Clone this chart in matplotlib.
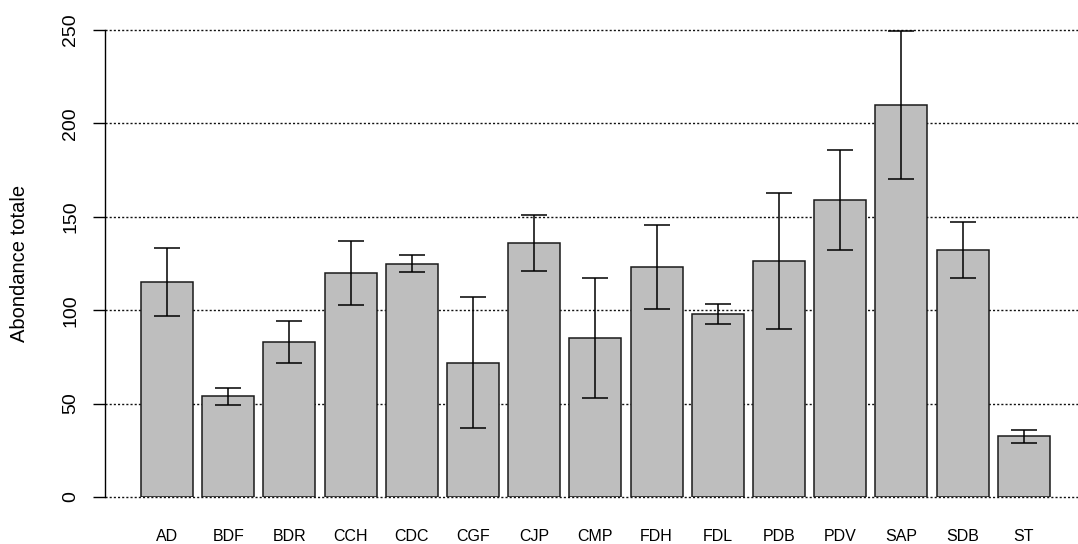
import matplotlib
matplotlib.use("Agg")
import matplotlib.pyplot as plt
import numpy as np

plt.rcParams['font.family'] = ['Liberation Sans', 'DejaVu Sans']

# abondance moyenne par site et erreur associee
sites = ['AD', 'BDF', 'BDR', 'CCH', 'CDC', 'CGF', 'CJP', 'CMP',
         'FDH', 'FDL', 'PDB', 'PDV', 'SAP', 'SDB', 'ST']
abondance = [115, 54, 83, 120, 125, 72, 136, 85, 123, 98, 126.5, 159, 210, 132, 32.5]
erreur = [18.3, 4.5, 11, 17.3, 4.8, 35, 15, 32, 22.5, 5.5, 36.3, 26.6, 39.5, 15, 3.6]
graduations = [0, 50, 100, 150, 200, 250]

W, H = 1078, 544
fig = plt.figure(figsize=(W / 100, H / 100), dpi=100)
ax = fig.add_axes([105 / W, 47 / H, 973 / W, 467 / H])

x = np.arange(len(sites))
step = 61.2  # pixels entre deux barres
x0 = -62 / step
ax.set_xlim(x0, x0 + 973 / step)
ax.set_ylim(0, 250)

# lignes horizontales en pointille
for g in graduations:
    ax.axhline(g, color='#111111', lw=1, linestyle=(0, (1.5, 1.5)),
               zorder=0, clip_on=False)

ax.bar(x, abondance, width=0.85, color='#bebebe', edgecolor='#1a1a1a',
       linewidth=1.1, zorder=2)

eb = ax.errorbar(x, abondance, yerr=erreur, fmt='none', ecolor='black',
                 elinewidth=1.1, capsize=9.7, capthick=1.1, zorder=3)
for part in eb.get_children():
    part.set_clip_on(False)

for s in ['top', 'right', 'bottom']:
    ax.spines[s].set_visible(False)
ax.spines['left'].set_bounds(0, 250)
ax.spines['left'].set_linewidth(1)
ax.spines['left'].set_zorder(4)

ax.set_yticks(graduations)
ax.set_yticklabels([str(g) for g in graduations], rotation=90, va='center')
ax.tick_params(axis='y', length=8.6, width=1, pad=10, labelsize=14)
ax.set_xticks(x)
ax.set_xticklabels(sites)
ax.tick_params(axis='x', length=0, pad=23, labelsize=11.5)

fig.text(20 / W, 1 - 263 / H, 'Abondance totale', rotation=90,
         ha='center', va='center', fontsize=14.5)

fig.savefig('out.png', dpi=100)
